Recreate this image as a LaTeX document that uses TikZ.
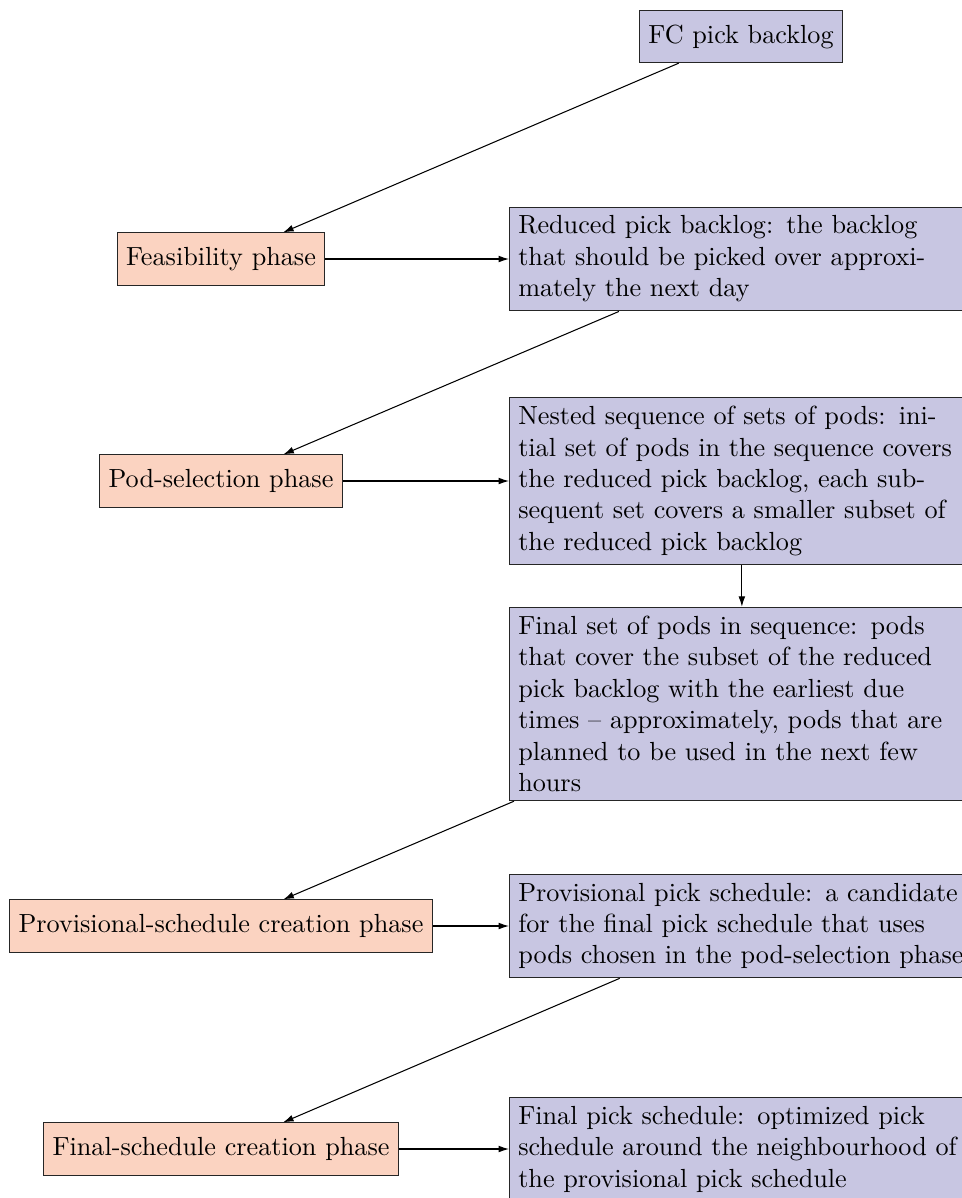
\documentclass[tikz,border=0pt]{standalone}
\usetikzlibrary{arrows.meta}
\definecolor{phasefill}{RGB}{251,211,193}
\definecolor{datafill}{RGB}{200,198,226}
\begin{document}
\begin{tikzpicture}[x=0.3817pt,y=-0.3817pt,
  phase/.style={draw=black!85,fill=phasefill,minimum height=7mm,inner sep=3.33pt},
  datab/.style={draw=black!85,fill=datafill,text width=6cm,inner sep=3.33pt,anchor=west},
  fcbox/.style={draw=black!85,fill=datafill,minimum height=7mm,inner sep=3.33pt},
  arr/.style={-{Latex[length=4pt,width=2.6pt]},line width=0.4pt}]
\useasboundingbox (0,0) rectangle (962,1198);
\node[fcbox] (fc) at (741,36.5) {FC pick backlog};
\node[phase] (feas) at (221,259) {Feasibility phase};
\node[datab] (red) at (509,259) {Reduced pick backlog: the backlog that should be picked over approximately the next day};
\node[phase] (pod) at (221,481) {Pod-selection phase};
\node[datab] (nest) at (509,481) {Nested sequence of sets of pods: initial set of pods in the sequence covers the reduced pick backlog, each subsequent set covers a smaller subset of the reduced pick backlog};
\node[datab] (fin) at (509,704) {Final set of pods in sequence: pods that cover the subset of the reduced pick backlog with the earliest due times -- approximately, pods that are planned to be used in the next few hours};
\node[phase] (prov) at (221,926) {Provisional-schedule creation phase};
\node[datab] (provs) at (509,926) {Provisional pick schedule: a candidate for the final pick schedule that uses pods chosen in the pod-selection phase};
\node[phase] (final) at (221,1149) {Final-schedule creation phase};
\node[datab] (finals) at (509,1149) {Final pick schedule: optimized pick schedule around the neighbourhood of the provisional pick schedule};
\draw[arr] (fc) -- (feas);
\draw[arr] (feas) -- (red);
\draw[arr] (red) -- (pod);
\draw[arr] (pod) -- (nest);
\draw[arr] (nest) -- (fin);
\draw[arr] (fin) -- (prov);
\draw[arr] (prov) -- (provs);
\draw[arr] (provs) -- (final);
\draw[arr] (final) -- (finals);
\end{tikzpicture}
\end{document}
